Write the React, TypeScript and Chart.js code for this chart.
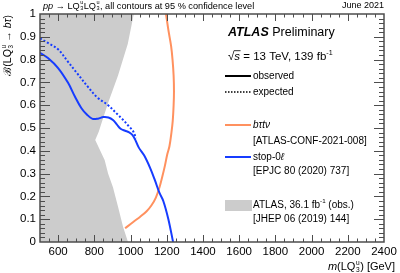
import React, { useEffect, useRef } from 'react';
import { Chart, registerables } from 'chart.js';

Chart.register(...registerables);

const FONT = '"Liberation Sans", Arial, Helvetica, sans-serif';

// x-axis tick labels (GeV) and y-axis ticks
const xLabelValues = [600, 800, 1000, 1200, 1400, 1600, 1800, 2000, 2200, 2400];
const yTickValues = [0, 0.1, 0.2, 0.3, 0.4, 0.5, 0.6, 0.7, 0.8, 0.9, 1];

// ATLAS 36.1 fb-1 observed exclusion region (polygon boundary)
const exclusionMass = [500, 986, 959, 931, 903, 876, 857, 805, 825, 839, 876, 931, 985, 1018, 500];
const exclusionBR = [0, 0, 0.066, 0.155, 0.24, 0.3, 0.36, 0.447, 0.485, 0.52, 0.61, 0.73, 0.87, 1, 1];

// stop-0l observed
const observedMass = [500, 544, 600, 655, 692, 728, 760, 790, 820, 850, 878, 903, 925, 945, 970, 990, 1010, 1025, 1045, 1075, 1108, 1135, 1160, 1181, 1209, 1235];
const observedBR = [0.83, 0.807, 0.763, 0.698, 0.639, 0.588, 0.558, 0.54, 0.541, 0.548, 0.546, 0.535, 0.515, 0.497, 0.488, 0.482, 0.47, 0.45, 0.415, 0.38, 0.325, 0.27, 0.215, 0.18, 0.1, 0];

// stop-0l expected
const expectedMass = [500, 544, 600, 655, 705, 765, 815, 876, 928, 960, 988, 1015, 1030];
const expectedBR = [0.893, 0.873, 0.845, 0.79, 0.74, 0.68, 0.635, 0.6, 0.56, 0.535, 0.51, 0.485, 0.455];

// b tau t nu observed
const btauMass = [970, 1015, 1052, 1089, 1115, 1140, 1160, 1175, 1190, 1203, 1215, 1226, 1233, 1238, 1240, 1238, 1232, 1224, 1209, 1196];
const btauBR = [0.06, 0.088, 0.11, 0.135, 0.16, 0.195, 0.24, 0.285, 0.335, 0.385, 0.42, 0.48, 0.53, 0.6, 0.66, 0.73, 0.8, 0.86, 0.93, 1];

const toPoints = (xs: number[], ys: number[]) => xs.map((x, i) => ({ x, y: ys[i] }));

const BLUE = 'rgb(22,60,255)';
const ORANGE = 'rgb(255,145,95)';
const GRAY = 'rgb(204,204,204)';

type Part = { t?: string; italic?: boolean; bold?: boolean; kind?: 'lq' | 'sup'; over?: boolean };

function fontStr(size: number, italic?: boolean, bold?: boolean) {
  return `${italic ? 'italic ' : ''}${bold ? 'bold ' : ''}${size}px ${FONT}`;
}

function drawRich(ctx: CanvasRenderingContext2D, parts: Part[], x: number, y: number, size: number, draw = true): number {
  let cx = x;
  ctx.textBaseline = 'middle';
  ctx.textAlign = 'left';
  for (const p of parts) {
    if (p.kind === 'lq') {
      ctx.font = fontStr(size);
      if (draw) ctx.fillText('LQ', cx, y);
      cx += ctx.measureText('LQ').width + size * 0.05;
      const s = size * 0.6;
      ctx.font = fontStr(s);
      const w = Math.max(ctx.measureText('u').width, ctx.measureText('3').width);
      if (draw) {
        ctx.fillText('u', cx, y - size * 0.38);
        ctx.fillText('3', cx, y + size * 0.3);
      }
      cx += w + size * 0.05;
    } else if (p.kind === 'sup') {
      const s = size * 0.62;
      ctx.font = fontStr(s);
      if (draw) ctx.fillText(p.t || '', cx, y - size * 0.38);
      cx += ctx.measureText(p.t || '').width;
    } else {
      ctx.font = fontStr(size, p.italic, p.bold);
      const w = ctx.measureText(p.t || '').width;
      if (draw) {
        ctx.fillText(p.t || '', cx, y);
        if (p.over) {
          ctx.save();
          ctx.lineWidth = 0.8;
          ctx.strokeStyle = ctx.fillStyle as string;
          ctx.beginPath();
          ctx.moveTo(cx - 0.5, y - size * 0.55);
          ctx.lineTo(cx + w + 0.5, y - size * 0.55);
          ctx.stroke();
          ctx.restore();
        }
      }
      cx += w;
    }
  }
  return cx - x;
}

const framePlugin = {
  id: 'rootFrame',
  afterDatasetsDraw(chart: any) {
    const { ctx, chartArea } = chart;
    const { left, right, top, bottom } = chartArea;
    const xs = chart.scales.x;
    const ys = chart.scales.y;
    ctx.save();
    ctx.strokeStyle = '#4d4d4d';
    ctx.lineWidth = 1;
    const seg = (a: number, b: number, c: number, d: number) => {
      ctx.beginPath();
      ctx.moveTo(a, b);
      ctx.lineTo(c, d);
      ctx.stroke();
    };
    for (let v = 550; v < 2400; v += 50) {
      const px = Math.round(xs.getPixelForValue(v)) + 0.5;
      const major = v % 200 === 0;
      const len = major ? 7 : 3.5;
      seg(px, bottom, px, bottom - len);
      seg(px, top, px, top + len);
    }
    for (let i = 1; i < 50; i++) {
      const py = Math.round(ys.getPixelForValue(i * 0.02)) + 0.5;
      const major = i % 5 === 0;
      const len = major ? 10 : 5;
      seg(left, py, left + len, py);
      seg(right, py, right - len, py);
    }
    ctx.lineWidth = 1.5;
    ctx.strokeRect(left, top, right - left, bottom - top);
    ctx.restore();
  },
  afterDraw(chart: any) {
    const { ctx, chartArea } = chart;
    const { left, right, top, bottom } = chartArea;
    ctx.save();
    ctx.fillStyle = '#000';
    // header
    drawRich(ctx, [{ t: 'pp', italic: true }, { t: ' → ' }, { kind: 'lq' }, { kind: 'lq' }, { t: ', all contours at 95 % confidence level' }], left + 3, 6, 9.2);
    ctx.font = fontStr(9);
    ctx.textAlign = 'right';
    ctx.fillText('June 2021', right, 6);

    // y title (rotated)
    const yParts: Part[] = [{ t: 'ℬ' }, { t: '(' }, { kind: 'lq' }, { t: ' → ' }, { t: 'bτ', italic: true }, { t: ')' }];
    const yw = drawRich(ctx, yParts, 0, 0, 10.5, false);
    ctx.save();
    ctx.translate(8, top + 1 + yw);
    ctx.rotate(-Math.PI / 2);
    drawRich(ctx, yParts, 0, 0, 10.5);
    ctx.restore();

    // x title
    const xParts: Part[] = [{ t: 'm', italic: true }, { t: '(' }, { kind: 'lq' }, { t: ') [GeV]' }];
    const xw = drawRich(ctx, xParts, 0, 0, 11, false);
    drawRich(ctx, xParts, 395 - xw, bottom + 25, 11);

    // ATLAS label
    drawRich(ctx, [{ t: 'ATLAS', bold: true, italic: true }, { t: ' Preliminary' }], 228, 33, 12.5);
    drawRich(ctx, [{ t: '√' }, { t: 's', italic: true, over: true }, { t: ' = 13 TeV, 139 fb' }, { t: '-1', kind: 'sup' }], 228, 57, 11.5);

    // legend
    const lx0 = 225, lx1 = 251, tx = 253, fs = 10;
    const legLine = (y: number, color: string, dash: number[], w: number) => {
      ctx.save();
      ctx.strokeStyle = color;
      ctx.lineWidth = w;
      ctx.setLineDash(dash);
      ctx.beginPath();
      ctx.moveTo(lx0, y);
      ctx.lineTo(lx1, y);
      ctx.stroke();
      ctx.restore();
    };
    legLine(76, '#000', [], 2);
    drawRich(ctx, [{ t: 'observed' }], tx, 76, fs);
    legLine(92, '#000', [1.5, 1.5], 1.5);
    drawRich(ctx, [{ t: 'expected' }], tx, 92, fs);
    legLine(125, ORANGE, [], 2);
    drawRich(ctx, [{ t: 'bτtν', italic: true }], tx, 125, fs);
    drawRich(ctx, [{ t: '[ATLAS-CONF-2021-008]' }], tx, 141, fs);
    legLine(157, BLUE, [], 2);
    drawRich(ctx, [{ t: 'stop-0' }, { t: 'ℓ', italic: true }], tx, 157, fs);
    drawRich(ctx, [{ t: '[EPJC 80 (2020) 737]' }], tx, 171, fs);
    ctx.fillStyle = GRAY;
    ctx.fillRect(lx0, 200, lx1 - lx0 + 1, 11);
    ctx.fillStyle = '#000';
    drawRich(ctx, [{ t: 'ATLAS, 36.1 fb' }, { t: '-1', kind: 'sup' }, { t: ' (obs.)' }], tx, 205, fs);
    drawRich(ctx, [{ t: '[JHEP 06 (2019) 144]' }], tx, 219, fs);
    ctx.restore();
  },
};

export default function App() {
  const ref = useRef<HTMLCanvasElement>(null);
  useEffect(() => {
    if (!ref.current) return;
    const chart = new Chart(ref.current, {
      type: 'scatter',
      data: {
        datasets: [
          {
            label: 'ATLAS, 36.1 fb-1 (obs.)',
            data: toPoints(exclusionMass, exclusionBR),
            showLine: true,
            fill: 'shape',
            backgroundColor: GRAY,
            borderColor: 'rgba(0,0,0,0)',
            borderWidth: 0,
            pointRadius: 0,
            tension: 0,
            order: 10,
          } as any,
          {
            label: 'stop-0l expected',
            data: toPoints(expectedMass, expectedBR),
            showLine: true,
            borderColor: BLUE,
            borderWidth: 2,
            borderDash: [2, 2],
            pointRadius: 0,
            tension: 0.35,
            fill: false,
            order: 2,
          },
          {
            label: 'stop-0l observed',
            data: toPoints(observedMass, observedBR),
            showLine: true,
            borderColor: BLUE,
            borderWidth: 2,
            pointRadius: 0,
            tension: 0.35,
            fill: false,
            order: 1,
          },
          {
            label: 'b tau t nu',
            data: toPoints(btauMass, btauBR),
            showLine: true,
            borderColor: ORANGE,
            borderWidth: 2,
            pointRadius: 0,
            tension: 0.35,
            fill: false,
            order: 1,
          },
        ],
      },
      options: {
        responsive: false,
        animation: false,
        devicePixelRatio: 1,
        layout: { padding: { top: 14, right: 16, left: 0, bottom: 0 } },
        plugins: { legend: { display: false }, tooltip: { enabled: false } },
        scales: {
          x: {
            type: 'linear',
            min: 500,
            max: 2400,
            afterFit: (s: any) => { s.height = 31; },
            grid: { display: false, drawTicks: false },
            border: { display: false },
            ticks: {
              stepSize: 100,
              autoSkip: false,
              maxRotation: 0,
              minRotation: 0,
              padding: 3,
              color: '#000',
              font: { size: 11.5, family: FONT },
              callback: (v: any) => (xLabelValues.includes(Number(v)) ? String(v) : ''),
            },
          },
          y: {
            type: 'linear',
            min: 0,
            max: 1,
            afterFit: (s: any) => { s.width = 40; },
            grid: { display: false, drawTicks: false },
            border: { display: false },
            ticks: {
              stepSize: 0.1,
              padding: 4,
              color: '#000',
              font: { size: 11.5, family: FONT },
              callback: (v: any) => {
                const n = Number(Number(v).toFixed(1));
                return yTickValues.includes(n) ? String(n) : '';
              },
            },
          },
        },
      },
      plugins: [framePlugin],
    });
    return () => chart.destroy();
  }, []);
  return (
    <div style={{ position: 'absolute', left: 0, top: 0, width: 400, height: 273 }}>
      <canvas ref={ref} width={400} height={273} style={{ display: 'block', width: 400, height: 273 }} />
    </div>
  );
}
